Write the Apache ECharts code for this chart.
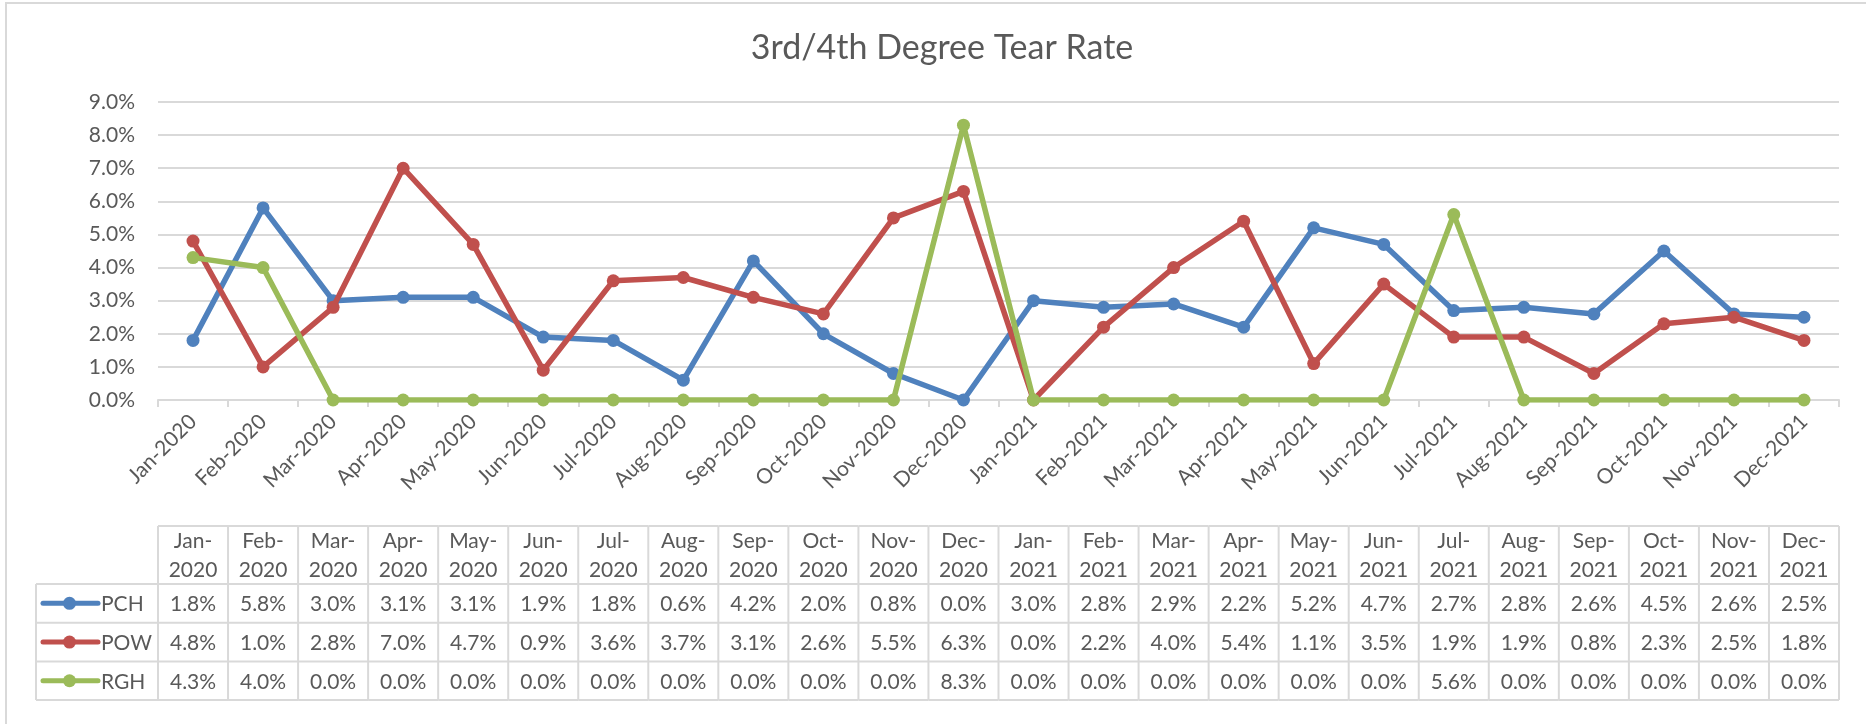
<!DOCTYPE html>
<html>
<head>
<meta charset="utf-8">
<script src="https://cdn.jsdelivr.net/npm/echarts@6/dist/echarts.min.js"></script>
<style>
html,body{margin:0;padding:0;background:#fff;}
#main{width:1866px;height:724px;}
</style>
</head>
<body>
<div id="main"></div>
<script>
// ---- data ----
var categories = ['Jan-2020','Feb-2020','Mar-2020','Apr-2020','May-2020','Jun-2020','Jul-2020','Aug-2020','Sep-2020','Oct-2020','Nov-2020','Dec-2020',
                  'Jan-2021','Feb-2021','Mar-2021','Apr-2021','May-2021','Jun-2021','Jul-2021','Aug-2021','Sep-2021','Oct-2021','Nov-2021','Dec-2021'];
var seriesNames = ['PCH','POW','RGH'];
var pch = [1.8,5.8,3.0,3.1,3.1,1.9,1.8,0.6,4.2,2.0,0.8,0.0,3.0,2.8,2.9,2.2,5.2,4.7,2.7,2.8,2.6,4.5,2.6,2.5];
var pow = [4.8,1.0,2.8,7.0,4.7,0.9,3.6,3.7,3.1,2.6,5.5,6.3,0.0,2.2,4.0,5.4,1.1,3.5,1.9,1.9,0.8,2.3,2.5,1.8];
var rgh = [4.3,4.0,0.0,0.0,0.0,0.0,0.0,0.0,0.0,0.0,0.0,8.3,0.0,0.0,0.0,0.0,0.0,0.0,5.6,0.0,0.0,0.0,0.0,0.0];
var yTicks = [0,1,2,3,4,5,6,7,8,9];
var titleText = '3rd/4th Degree Tear Rate';

// ---- styles ----
var colors = ['#4f81bd','#c0504d','#9bbb59'];
var allSeries = [pch, pow, rgh];
var FONT = 'Lato, "Noto Sans", sans-serif';
var TXT = '#595959';
var GRID = '#d9d9d9';
var FS = 21;

var tableTop = 526, headerH = 58, rowH = 38.7;
var legendLeft = 36;

function fmt(v){ return v.toFixed(1) + '%'; }

function renderTable(params, api){
  var i = api.value(0);
  var cx = api.coord([i, 0])[0];
  var w = api.size([1, 0])[0];
  var x0 = cx - w/2, x1 = cx + w/2;
  var bottom = tableTop + headerH + rowH*3;
  var ls = {stroke: GRID, lineWidth: 2};
  var ch = [];
  var ys = [tableTop, tableTop+headerH, tableTop+headerH+rowH, tableTop+headerH+rowH*2, bottom];
  ys.forEach(function(y){
    ch.push({type:'line', shape:{x1:x0, y1:y, x2:x1, y2:y}, style:ls});
  });
  ch.push({type:'line', shape:{x1:x1, y1:tableTop, x2:x1, y2:bottom}, style:ls});
  if (i === 0) {
    ch.push({type:'line', shape:{x1:x0, y1:tableTop, x2:x0, y2:bottom}, style:ls});
  }
  var parts = categories[i].split('-');
  ch.push({type:'text', style:{text: parts[0] + '-\n' + parts[1], x: cx, y: tableTop + headerH/2 + 1,
    align:'center', verticalAlign:'middle', fontSize: FS, fontFamily: FONT, fill: TXT, lineHeight: 29}});
  for (var s = 0; s < 3; s++) {
    var yMid = tableTop + headerH + rowH*s + rowH/2 + 1;
    ch.push({type:'text', style:{text: fmt(allSeries[s][i]), x: cx, y: yMid,
      align:'center', verticalAlign:'middle', fontSize: FS, fontFamily: FONT, fill: TXT}});
  }
  if (i === 0) {
    for (var s2 = 1; s2 < ys.length; s2++) {
      ch.push({type:'line', shape:{x1:legendLeft, y1:ys[s2], x2:x0, y2:ys[s2]}, style:ls});
    }
    ch.push({type:'line', shape:{x1:legendLeft, y1:ys[1], x2:legendLeft, y2:bottom}, style:ls});
    for (var k = 0; k < 3; k++) {
      var ym = tableTop + headerH + rowH*k + rowH/2;
      ch.push({type:'line', shape:{x1:legendLeft+7, y1:ym, x2:legendLeft+62, y2:ym},
        style:{stroke: colors[k], lineWidth: 5, lineCap:'round'}});
      ch.push({type:'circle', shape:{cx:legendLeft+33.5, cy:ym, r:6.5}, style:{fill: colors[k]}});
      ch.push({type:'text', style:{text: seriesNames[k], x: legendLeft+65, y: ym + 1,
        align:'left', verticalAlign:'middle', fontSize: FS, fontFamily: FONT, fill: TXT}});
    }
  }
  return {type:'group', children: ch};
}

var chart = echarts.init(document.getElementById('main'), null, {renderer:'canvas'});

var lineSeries = seriesNames.map(function(n, k){
  return {
    name: n, type: 'line', data: allSeries[k],
    symbol: 'circle', symbolSize: 13,
    lineStyle: {color: colors[k], width: 5.5},
    itemStyle: {color: colors[k]},
    z: 3 + k
  };
});

lineSeries.push({
  type: 'custom', name: 'table',
  data: categories.map(function(c, i){ return [i, 0]; }),
  encode: {x: 0, y: 1},
  renderItem: renderTable,
  clip: false, silent: true, z: 1
});

chart.setOption({
  animation: false,
  backgroundColor: '#fff',
  title: {
    text: titleText, left: 937, top: 26, textAlign: 'center',
    textStyle: {fontFamily: FONT, fontSize: 34, fontWeight: 'normal', color: TXT}
  },
  grid: {left: 158, right: 27, top: 102, bottom: 324, containLabel: false},
  xAxis: {
    type: 'category', data: categories, boundaryGap: true,
    axisLine: {lineStyle: {color: GRID, width: 2}},
    axisTick: {show: true, length: 7, lineStyle: {color: GRID, width: 2}},
    axisLabel: {rotate: 45, interval: 0, margin: 18, fontSize: FS, fontFamily: FONT, color: TXT}
  },
  yAxis: {
    type: 'value', min: yTicks[0], max: yTicks[yTicks.length-1], interval: 1,
    axisLine: {show: false}, axisTick: {show: false},
    splitLine: {lineStyle: {color: GRID, width: 2}},
    axisLabel: {margin: 23, fontSize: FS, fontFamily: FONT, color: TXT, formatter: function(v){ return fmt(v); }}
  },
  graphic: [{
    type: 'rect', shape: {x: 6, y: 3, width: 1880, height: 740},
    style: {fill: null, stroke: GRID, lineWidth: 2}, silent: true, z: -1
  }],
  series: lineSeries
});
</script>
</body>
</html>
